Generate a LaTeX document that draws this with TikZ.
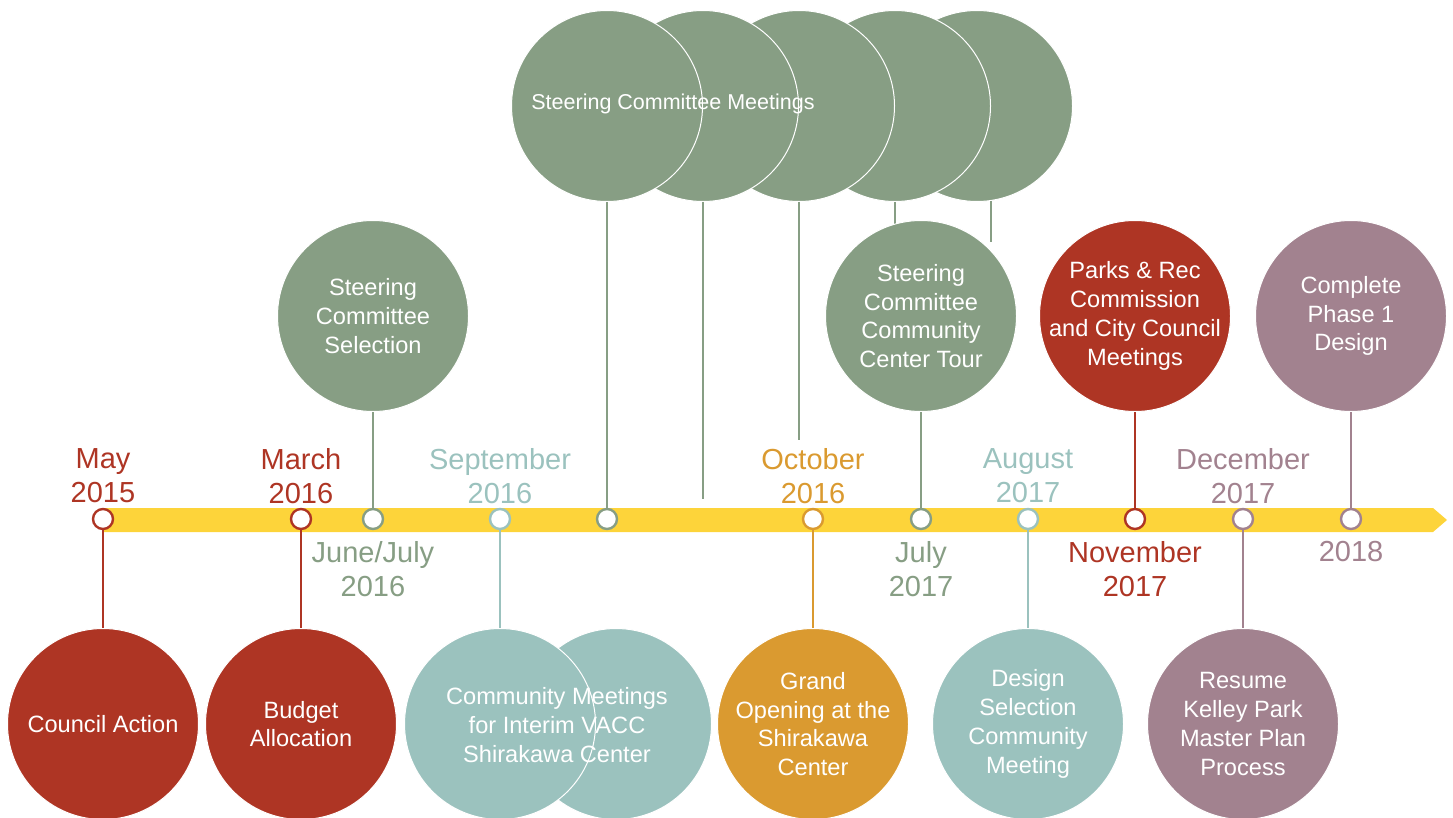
\documentclass[tikz,border=0pt]{standalone}
\usepackage{fontspec}
\setmainfont{Liberation Sans}
\definecolor{cred}{HTML}{AE3524}
\definecolor{csage}{HTML}{879E84}
\definecolor{cteal}{HTML}{9BC2BE}
\definecolor{corange}{HTML}{DA9A30}
\definecolor{cmauve}{HTML}{A2828F}
\definecolor{cyellow}{HTML}{FDD43A}
\newcommand{\circfont}{\fontsize{23.6}{28.8}\selectfont}
\newcommand{\clusterfont}{\fontsize{21.5}{28.8}\selectfont}
\newcommand{\datefont}{\fontsize{29}{34}\selectfont}
\tikzset{
  bigc/.style={circle, minimum size=191pt, inner sep=-40pt, fill=#1, draw=white, line width=1pt, text=white, font=\circfont, align=center},
  ctext/.style={text=white, font=\circfont, align=center, inner sep=0pt},
  mk/.style={circle, minimum size=20pt, inner sep=0pt, fill=white, draw=#1, line width=2.4pt},
  stem/.style={draw=#1, line width=2pt},
  datelbl/.style={text=#1, font=\datefont, align=center, inner sep=0pt},
}
\begin{document}
\begin{tikzpicture}[x=1pt,y=-1pt]
\useasboundingbox (0,0) rectangle (1453,818);
% timeline bar
\fill[cyellow] (103,508) -- (1433,508) -- (1447,520) -- (1433,532) -- (103,532) -- cycle;

% steering committee meetings cluster (back to front)
\node[bigc=csage] (sc5) at (977,106) {};
\node[bigc=csage] (sc4) at (895,106) {};
\node[bigc=csage] (sc3) at (799,106) {};
\node[bigc=csage] (sc2) at (703,106) {};
\node[bigc=csage] (sc1) at (607,106) {};
\node[ctext, font=\clusterfont] (sctxt) at (673,104) {Steering Committee Meetings};

% community meetings pair
\node[bigc=cteal] (cm2) at (616,724) {};
\node[bigc=cteal] (cm1) at (500,724) {};
\node[ctext] (cmtxt) at (557,725) {Community Meetings\\for Interim VACC\\Shirakawa Center};

% markers
\node[mk=cred]   (m1)  at (103,519) {};
\node[mk=cred]   (m2)  at (301,519) {};
\node[mk=csage]  (m3)  at (373,519) {};
\node[mk=cteal]  (m4)  at (500,519) {};
\node[mk=csage]  (m5)  at (607,519) {};
\node[mk=corange](m6)  at (813,519) {};
\node[mk=csage]  (m7)  at (921,519) {};
\node[mk=cteal]  (m8)  at (1028,519) {};
\node[mk=cred]   (m9)  at (1135,519) {};
\node[mk=cmauve] (m10) at (1243,519) {};
\node[mk=cmauve] (m11) at (1351,519) {};

% free ends of cluster stems
\coordinate (e2) at (703,499);
\coordinate (e3) at (799,440);
\coordinate (e4) at (895,224);
\coordinate (e5) at (991,242);

% other circles
\node[bigc=cred]    (ca)  at (103,724) {Council Action};
\node[bigc=cred]    (ba)  at (301,724) {Budget\\Allocation};
\node[bigc=corange] (go)  at (813,724) {Grand\\Opening at the\\Shirakawa\\Center};
\node[bigc=cteal]   (ds)  at (1028,724) {Design\\Selection\\Community\\Meeting};
\node[bigc=cmauve]  (rk)  at (1243,724) {Resume\\Kelley Park\\Master Plan\\Process};
\node[bigc=csage]   (ss)  at (373,316) {Steering\\Committee\\Selection};
\node[bigc=cred]    (pr)  at (1135,316) {Parks \& Rec\\Commission\\and City Council\\Meetings};
\node[bigc=cmauve]  (cp)  at (1351,316) {Complete\\Phase 1\\Design};

% stems
\draw[stem=cred]    (m1) -- (ca);
\draw[stem=cred]    (m2) -- (ba);
\draw[stem=csage]   (m3) -- (ss);
\draw[stem=cteal]   (m4) -- (cm1);
\draw[stem=csage]   (m5) -- (sc1);
\draw[stem=csage]   (sc2) -- (e2);
\draw[stem=csage]   (sc3) -- (e3);
\draw[stem=csage]   (sc4) -- (e4);
\draw[stem=csage]   (e5 |- sc5.-81.6) -- (e5);
\draw[stem=corange] (m6) -- (go);
\draw[stem=cteal]   (m8) -- (ds);
\draw[stem=cred]    (m9) -- (pr);
\draw[stem=cmauve]  (m10) -- (rk);
\draw[stem=cmauve]  (m11) -- (cp);

% tour circle drawn over stem ends
\node[bigc=csage] (ct) at (921,316) {Steering\\Committee\\Community\\Center Tour};
\draw[stem=csage] (m7) -- (ct);

% date labels
\node[datelbl=cred]    (d1)  at (103,476) {May\\2015};
\node[datelbl=cred]    (d2)  at (301,476) {March\\2016};
\node[datelbl=csage]   (d3)  at (373,569) {June/July\\2016};
\node[datelbl=cteal]   (d4)  at (500,476) {September\\2016};
\node[datelbl=corange] (d6)  at (813,476) {October\\2016};
\node[datelbl=csage]   (d7)  at (921,569) {July\\2017};
\node[datelbl=cteal]   (d8)  at (1028,476) {August\\2017};
\node[datelbl=cred]    (d9)  at (1135,569) {November\\2017};
\node[datelbl=cmauve]  (d10) at (1243,476) {December\\2017};
\node[datelbl=cmauve]  (d11) at (1351,552) {2018};
\end{tikzpicture}
\end{document}
